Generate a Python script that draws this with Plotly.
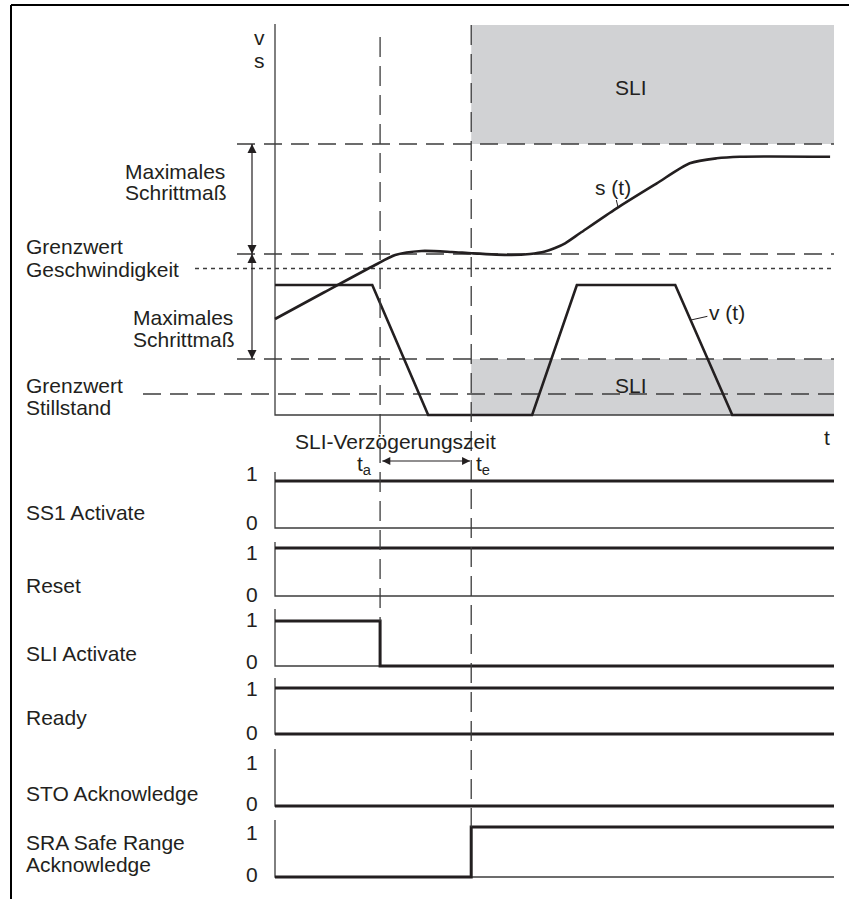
import plotly.graph_objects as go

# ---------------- data ----------------
# time axis in arbitrary units (0 .. 100)
T_A = 18.8      # t_a : SLI activation
T_E = 35.1      # t_e : end of SLI delay
T_END = 100.0

# speed profile v(t)
v_t = [0, 17.4, 27.4, 46.0, 54.0, 71.6, 81.8, 100]
v_val = [130, 130, 0, 0, 130, 130, 0, 0]

# position profile s(t)
s_t = [0, 8.9, 17.9, 21.5, 26.2, 31.6, 35.2, 42.3, 45.6, 48.3, 50.1, 51.9, 54.6,
       61.1, 68.3, 74.2, 79.0, 83.2, 99.3]
s_val = [96, 123, 150, 160, 164, 163, 161.7, 160, 161, 163.5, 167, 171.7, 182,
         206.7, 231.7, 251.7, 256.7, 258.3, 258.3]

# threshold levels of the upper diagram
lvl_band_top = 390      # top of upper SLI region
lvl_max_step = 271      # upper limit (Maximales Schrittmass)
lvl_start = 161         # position at t_e
lvl_speed = 146.5       # Grenzwert Geschwindigkeit
lvl_low = 56            # lower limit / lower SLI region
lvl_still = 21          # Grenzwert Stillstand

# digital signals
ss1_t, ss1_v = [0, T_END], [1, 1]
reset_t, reset_v = [0, T_END], [1, 1]
sli_t, sli_v = [0, T_A, T_END], [1, 0, 0]
ready_t, ready_hi, ready_lo = [0, T_END], [1, 1], [0, 0]
sto_t, sto_v = [0, T_END], [0, 0]
sra_t, sra_v = [0, T_E, T_END], [0, 1, 1]

signal_names = ["SS1 Activate", "Reset", "SLI Activate", "Ready", "STO Acknowledge",
                ["SRA Safe Range", "Acknowledge"]]

# ---------------- layout helpers ----------------
W, H = 849, 899
AX_PX, END_PX = 275, 834
PX_PER_T = (END_PX - AX_PX) / T_END
TOP_ZERO_PX = 415

def t_of_px(px):
    return (px - AX_PX) / PX_PER_T

def px2x(px):
    return px / W

def px2y(py):
    return 1 - py / H

INK = "#231f20"
THIN = "#3c3c3c"
GRAY = "#d1d2d4"
FONT = "Liberation Sans, Arial, sans-serif"
FS = 21

fig = go.Figure()

# ----- upper diagram -----
fig.add_trace(go.Scatter(x=[0, 0, T_END], y=[391, 0, 0], mode="lines",
                         line=dict(color=THIN, width=1.3), xaxis="x", yaxis="y"))

DASH = "18px,9px"
for lvl, start_px, dash in [(lvl_max_step, 237, DASH), (lvl_start, 237, DASH),
                            (lvl_low, 237, DASH), (lvl_still, 143, DASH),
                            (lvl_speed, 195, "4px,4px")]:
    fig.add_trace(go.Scatter(x=[t_of_px(start_px), T_END], y=[lvl, lvl], mode="lines",
                             line=dict(color=THIN, width=1.3, dash=dash),
                             xaxis="x", yaxis="y"))

fig.add_trace(go.Scatter(x=v_t, y=v_val, mode="lines",
                         line=dict(color=INK, width=2.6), xaxis="x", yaxis="y"))
fig.add_trace(go.Scatter(x=s_t, y=s_val, mode="lines",
                         line=dict(color=INK, width=2.6, shape="spline", smoothing=0.7),
                         xaxis="x", yaxis="y"))

# double arrows (Maximales Schrittmass) at the left
ARR_T = t_of_px(252)
for a, b in [(lvl_max_step, lvl_start), (lvl_start, lvl_low)]:
    fig.add_trace(go.Scatter(x=[ARR_T, ARR_T], y=[a, b], mode="lines+markers",
                             line=dict(color=INK, width=1.2),
                             marker=dict(symbol=["arrow-up", "arrow-down"], size=9, color=INK),
                             cliponaxis=False, xaxis="x", yaxis="y"))

# ----- signal rows -----
ROW_PX = [(472, 481, 528), (542, 548, 596), (609, 621, 666),
          (678, 688, 734), (749, 758, 806), (820, 827, 877)]
row_series = [
    [(ss1_t, ss1_v)],
    [(reset_t, reset_v)],
    [(sli_t, sli_v)],
    [(ready_t, ready_hi), (ready_t, ready_lo)],
    [(sto_t, sto_v)],
    [(sra_t, sra_v)],
]

layout_axes = {}
for i, ((top, one, zero), series) in enumerate(zip(ROW_PX, row_series)):
    u = zero - one
    yname = "y%d" % (i + 2)
    dom_top = 448 if i == 0 else top - 4
    layout_axes["yaxis%d" % (i + 2)] = dict(
        domain=[px2y(zero + 6), px2y(dom_top)],
        range=[-6 / u, (zero - dom_top) / u],
        visible=False, fixedrange=True, anchor="x")
    fig.add_trace(go.Scatter(x=[0, 0, T_END], y=[(zero - top) / u, 0, 0], mode="lines",
                             line=dict(color=THIN, width=1.3), xaxis="x", yaxis=yname))
    for tt, vv in series:
        fig.add_trace(go.Scatter(x=tt, y=vv, mode="lines",
                                 line=dict(color=INK, width=3, shape="hv"),
                                 xaxis="x", yaxis=yname))

# SLI delay arrow between t_a and t_e (in the SS1 row's axis, above its "1" level)
u1 = ROW_PX[0][2] - ROW_PX[0][1]
y_arr = (ROW_PX[0][2] - 461) / u1
fig.add_trace(go.Scatter(x=[T_A + 0.4, T_E - 0.2], y=[y_arr, y_arr], mode="lines+markers",
                         line=dict(color=INK, width=1.2),
                         marker=dict(symbol=["arrow-left", "arrow-right"], size=8, color=INK),
                         cliponaxis=False, xaxis="x", yaxis="y2"))

# ----- shapes -----
shapes = [
    dict(type="rect", xref="x", yref="y", x0=T_E, x1=T_END, y0=lvl_max_step, y1=lvl_band_top,
         fillcolor=GRAY, line=dict(width=0), layer="below"),
    dict(type="rect", xref="x", yref="y", x0=T_E, x1=T_END, y0=0, y1=lvl_low,
         fillcolor=GRAY, line=dict(width=0), layer="below"),
    dict(type="line", xref="x", yref="paper", x0=T_A, x1=T_A, y0=px2y(37), y1=px2y(621),
         line=dict(color=THIN, width=1.3, dash="20px,9px")),
    dict(type="line", xref="x", yref="paper", x0=T_E, x1=T_E, y0=px2y(25), y1=px2y(827),
         line=dict(color=THIN, width=1.3, dash="20px,9px")),
    # frame
    dict(type="line", xref="paper", yref="paper", x0=px2x(11), x1=1, y0=px2y(5), y1=px2y(5),
         line=dict(color="black", width=2)),
    dict(type="line", xref="paper", yref="paper", x0=px2x(11), x1=px2x(11), y0=px2y(5), y1=0,
         line=dict(color="black", width=2)),
]

# ----- annotations -----
ann = []

def text(s, xpx, ypx, anchor="left", size=FS):
    ann.append(dict(text=s, xref="paper", yref="paper", x=px2x(xpx), y=px2y(ypx),
                    xanchor=anchor, yanchor="middle", showarrow=False, borderpad=0,
                    font=dict(family=FONT, size=size, color=INK)))

text("v", 259, 37, "center")
text("s", 259, 60, "center")
text("SLI", 631, 88, "center")
text("SLI", 631, 385, "center")
text("Maximales", 124, 171)
text("Schrittmaß", 124, 193)
text("Maximales", 132, 317)
text("Schrittmaß", 132, 339)
text("Grenzwert", 25, 247)
text("Geschwindigkeit", 25, 269)
text("Grenzwert", 25, 386)
text("Stillstand", 25, 408)
text("t", 827, 437, "center")
text("SLI-Verzögerungszeit", 395, 441, "center")
text("t<sub>a</sub>", 373, 465, "right")
text("t<sub>e</sub>", 475, 465, "left")

one_lbl = [473, 552, 619, 688, 762, 832]
zero_lbl = [522, 594, 661, 732, 803, 874]
name_lbl = [512, 585, 653, 717, 793, [842, 864]]
for n, y1, y0, yn in zip(signal_names, one_lbl, zero_lbl, name_lbl):
    text("1", 252, y1, "center")
    text("0", 252, y0, "center")
    if isinstance(n, list):
        for part, yy in zip(n, yn):
            text(part, 25, yy)
    else:
        text(n, 25, yn)

# curve labels
ann.append(dict(text="s (t)", xref="x", yref="y", x=61.4, y=207, ax=-5, ay=-21,
                showarrow=True, arrowhead=0, arrowwidth=1, arrowcolor=INK,
                font=dict(family=FONT, size=FS, color=INK)))
ann.append(dict(text="v (t)", xref="x", yref="y", x=74.4, y=95, ax=36, ay=-8,
                showarrow=True, arrowhead=0, arrowwidth=1, arrowcolor=INK,
                font=dict(family=FONT, size=FS, color=INK)))

fig.update_layout(
    width=W, height=H, margin=dict(l=0, r=0, t=0, b=0),
    paper_bgcolor="white", plot_bgcolor="rgba(0,0,0,0)", showlegend=False,
    xaxis=dict(domain=[0, 1], range=[t_of_px(0), t_of_px(W)], visible=False, fixedrange=True),
    yaxis=dict(domain=[px2y(420), 1], range=[TOP_ZERO_PX - 420, TOP_ZERO_PX],
               visible=False, fixedrange=True),
    shapes=shapes, annotations=ann,
    font=dict(family=FONT, size=FS, color=INK),
    **layout_axes,
)

fig.write_html("out.html", config={"displayModeBar": False},
               post_script="document.body.style.margin='0px';")
